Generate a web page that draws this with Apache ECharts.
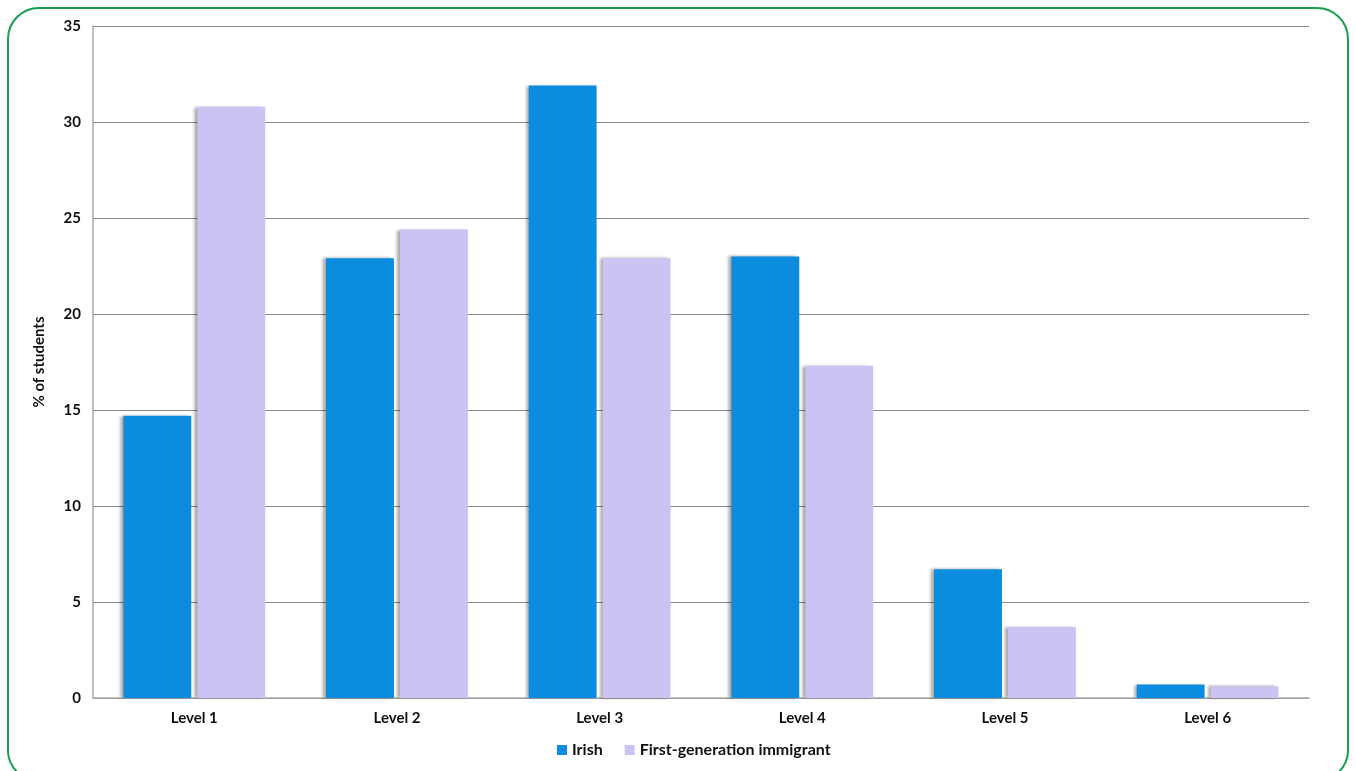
<!DOCTYPE html>
<html>
<head>
<meta charset="utf-8">
<script src="https://cdn.jsdelivr.net/npm/echarts@6/dist/echarts.min.js"></script>
<style>
html,body{margin:0;padding:0;background:#fff;}
#frame{position:absolute;left:7px;top:7px;width:1342px;height:775px;border:2.5px solid #1a9f50;border-radius:32px;box-sizing:border-box;}
#main{position:absolute;left:0;top:0;width:1356px;height:771px;}
</style>
</head>
<body>
<div id="frame"></div>
<div id="main"></div>
<script>
var categories = ['Level 1','Level 2','Level 3','Level 4','Level 5','Level 6'];
var irish = [14.7, 22.9, 31.9, 23.0, 6.7, 0.7];
var immigrant = [30.8, 24.4, 22.9, 17.3, 3.7, 0.6];
var seriesNames = ['Irish','First-generation immigrant'];
var yTicks = {min:0, max:35, interval:5};

var chart = echarts.init(document.getElementById('main'));
var font = 'Lato, "Open Sans", sans-serif';
var barShadow = {shadowColor:'rgba(0,0,0,0.35)', shadowBlur:3, shadowOffsetX:-3, shadowOffsetY:0};
chart.setOption({
  animation:false,
  backgroundColor:'transparent',
  grid:{left:93, right:47, top:26, bottom:73},
  legend:{
    bottom:8, left:552,
    itemWidth:10, itemHeight:10, itemGap:22,
    icon:'rect',
    textStyle:{fontFamily:font, fontWeight:'bold', fontSize:16, color:'#111'},
    data:seriesNames
  },
  xAxis:{
    type:'category', data:categories,
    axisLine:{lineStyle:{color:'#aaa', width:1.5}},
    axisTick:{show:false},
    axisLabel:{fontFamily:font, fontWeight:'bold', fontSize:15, color:'#111', margin:13}
  },
  yAxis:{
    type:'value', min:yTicks.min, max:yTicks.max, interval:yTicks.interval,
    name:'% of students', nameLocation:'middle', nameGap:46, nameRotate:90,
    nameTextStyle:{fontFamily:font, fontWeight:'bold', fontSize:15, color:'#111'},
    axisLine:{show:true, lineStyle:{color:'#aaa', width:1.5}},
    axisTick:{show:false},
    axisLabel:{fontFamily:font, fontWeight:'bold', fontSize:15, color:'#111', margin:12},
    splitLine:{lineStyle:{color:'#888', width:1}}
  },
  series:[
    {name:seriesNames[0], type:'bar', data:irish, barGap:'9%', barCategoryGap:'30%',
     itemStyle:Object.assign({color:'#0b8cdf'}, barShadow)},
    {name:seriesNames[1], type:'bar', data:immigrant,
     itemStyle:Object.assign({color:'#cdc3f3'}, barShadow)}
  ]
});
</script>
</body>
</html>
